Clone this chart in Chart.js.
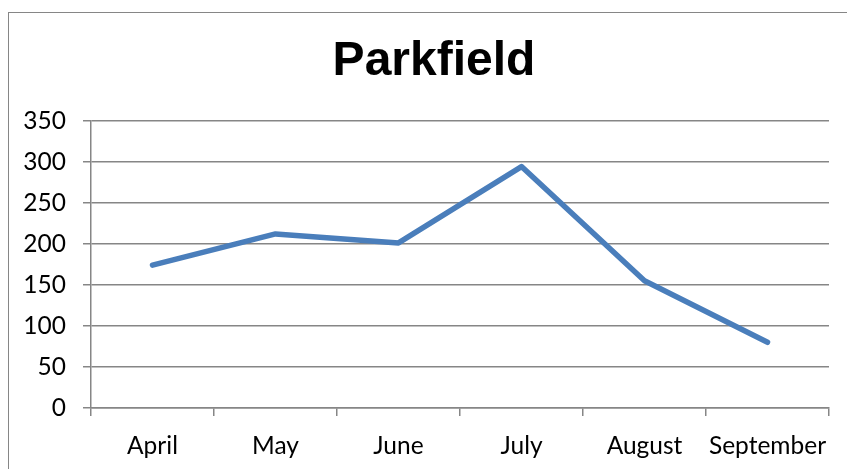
<!DOCTYPE html>
<html>
<head>
<meta charset="utf-8">
<script src="https://cdn.jsdelivr.net/npm/chart.js@4"></script>
<style>
  html, body { margin: 0; padding: 0; background: #fff; width: 847px; height: 469px; overflow: hidden; }
  #frame { position: absolute; left: 8px; top: 12px; width: 900px; height: 520px; border: 1.5px solid #868686; box-sizing: border-box; }
  #wrap { position: absolute; left: 0; top: 0; width: 847px; height: 469px; }
</style>
</head>
<body>
<div id="frame"></div>
<div id="wrap"><canvas id="c" width="847" height="469"></canvas></div>
<script>
const chartTitle = "Parkfield";
const categories = ["April", "May", "June", "July", "August", "September"];
const values = [174, 212, 201, 294, 155, 80];
const yMin = 0, yMax = 350, yStep = 50;

const grey = "#868686";
const tickFont = { family: "Lato", size: 24.5 };

const shiftTitle = {
  id: "shiftTitle",
  afterLayout(chart) {
    const t = chart.titleBlock;
    if (t) {
      t.left = 39;
      t.right = chart.width - 18;
      t.width = t.right - t.left;
    }
  }
};

new Chart(document.getElementById("c"), {
  type: "line",
  data: {
    labels: categories,
    datasets: [{
      label: chartTitle,
      data: values,
      borderColor: "#4a7ebb",
      backgroundColor: "#4a7ebb",
      borderWidth: 5.5,
      pointRadius: 0,
      tension: 0,
      borderCapStyle: "round",
      borderJoinStyle: "round"
    }]
  },
  plugins: [shiftTitle],
  options: {
    responsive: false,
    animation: false,
    layout: { padding: { left: 0, right: 18, top: 0, bottom: 0 } },
    plugins: {
      legend: { display: false },
      tooltip: { enabled: false },
      title: {
        display: true,
        text: chartTitle,
        color: "#000",
        font: { family: "Liberation Sans", size: 48, weight: "bold", lineHeight: 1.2 },
        padding: { top: 33, bottom: 30 }
      }
    },
    scales: {
      x: {
        offset: true,
        grid: { display: true, offset: true, drawOnChartArea: false, drawTicks: true, tickLength: 8, color: grey, lineWidth: 1.5 },
        border: { display: true, color: grey, width: 1.5 },
        ticks: { color: "#000", font: tickFont, padding: 15, maxRotation: 0, autoSkip: false },
        afterFit: (s) => { s.height = 61; }
      },
      y: {
        min: yMin, max: yMax,
        grid: { color: grey, lineWidth: 1.5, tickLength: 8, drawTicks: true },
        border: { display: true, color: grey, width: 1.5 },
        ticks: { stepSize: yStep, color: "#000", font: tickFont, padding: 17 },
        afterFit: (s) => { s.width = 91; }
      }
    }
  }
});
</script>
</body>
</html>
